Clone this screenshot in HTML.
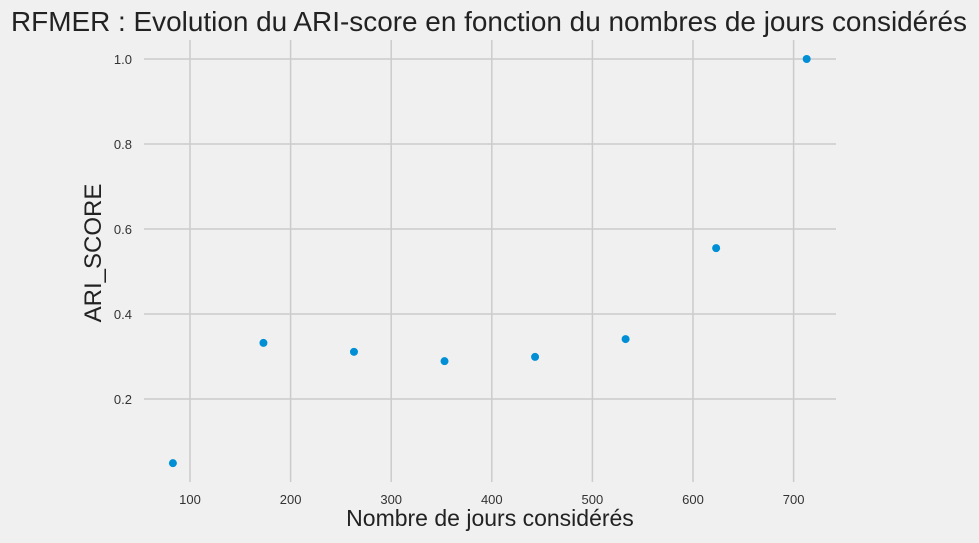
<!DOCTYPE html>
<html><head><meta charset="utf-8"><style>
body{margin:0;background:#f0f0f0;}
svg{display:block;font-family:"Liberation Sans",sans-serif;}
</style></head><body>
<svg id="chart" width="979" height="543">
<rect width="979" height="543" fill="#f0f0f0"/>
<text x="489" y="31" text-anchor="middle" font-size="28" textLength="956" lengthAdjust="spacingAndGlyphs" fill="#222">RFMER : Evolution du ARI-score en fonction du nombres de jours considérés</text>
<g id="grid"></g><g id="ticks"></g><g id="points"></g>
<text x="490" y="526" text-anchor="middle" font-size="23" fill="#222">Nombre de jours considérés</text>
<text transform="translate(101,253) rotate(-90)" text-anchor="middle" font-size="24" fill="#222">ARI_SCORE</text>
</svg>
<script>
const days=[83,173,263,353,443,533,623,713];
const ari=[0.049,0.332,0.311,0.289,0.299,0.341,0.555,1.0];
const xTicks=[100,200,300,400,500,600,700];
const yTicks=[0.2,0.4,0.6,0.8,1.0];
const L=144,R=836,T=40,B=482;
const xs=v=>89.4+v*1.006;
const ys=v=>484-v*425;
const NS='http://www.w3.org/2000/svg';
function mk(tag,attrs,parent){const e=document.createElementNS(NS,tag);for(const k in attrs)e.setAttribute(k,attrs[k]);document.getElementById(parent).appendChild(e);return e;}
xTicks.forEach(t=>{
 const l=mk('line',{x1:xs(t),x2:xs(t),y1:T,y2:B,stroke:'#cbcbcb','stroke-width':1.5},'grid');
 
 
 const tx=mk('text',{x:xs(t),y:504,'text-anchor':'middle','font-size':13,fill:'#333'},'ticks');
 tx.textContent=t;
 
 
});
yTicks.forEach(t=>{
 const l=mk('line',{x1:L,x2:R,y1:ys(t),y2:ys(t),stroke:'#cbcbcb','stroke-width':1.5},'grid');
 
 
 const tx=mk('text',{x:132,y:ys(t)+5,'text-anchor':'end','font-size':13,fill:'#333'},'ticks');
 tx.textContent=t.toFixed(1);
 
 
});
days.forEach((d,i)=>{
 const c=mk('circle',{cx:xs(d),cy:ys(ari[i]),r:4,fill:'#008fd5'},'points');
 
 
});
</script>
</body></html>
